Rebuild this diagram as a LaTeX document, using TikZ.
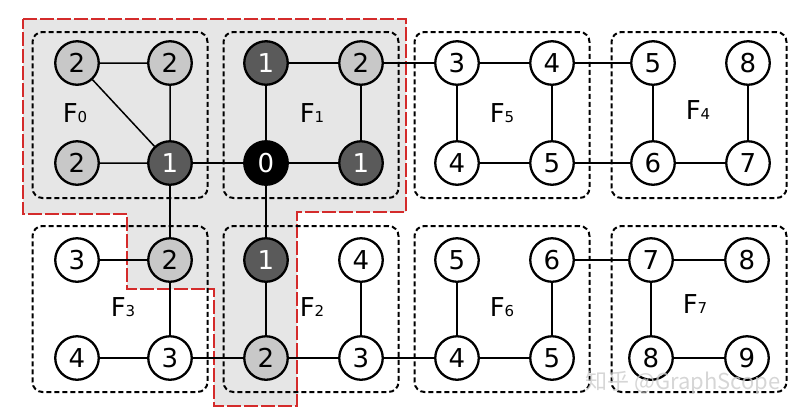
\documentclass[tikz,border=0pt]{standalone}
\usepackage{fontspec}
\setmainfont{DejaVu Sans}
\newfontfamily\cjkfont{Noto Sans CJK SC}
\usetikzlibrary{positioning,backgrounds}
\definecolor{redline}{HTML}{D42B2B}
\definecolor{shade}{HTML}{E6E6E6}
\definecolor{lgray}{HTML}{C8C8C8}
\definecolor{dgray}{HTML}{5A5A5A}
\pgfdeclarelayer{edgelayer}
\pgfsetlayers{background,edgelayer,main}
\newcommand{\fsub}[1]{F{\fontsize{15}{15}\selectfont #1}}
\tikzset{
  vtx/.style={
    circle, draw=black, line width=2.3pt, fill=white, inner sep=0pt,
    minimum size=43.5pt, font=\fontsize{26}{26}\selectfont
  },
  lvtx/.style={vtx, fill=lgray},
  dvtx/.style={vtx, fill=dgray, text=white},
  bvtx/.style={vtx, fill=black, text=white},
  fbox/.style={
    draw=black, line width=2pt, dash pattern=on 5pt off 3pt,
    rounded corners=10pt, minimum width=175pt, minimum height=166pt
  },
  lnk/.style={line width=1.5pt},
  flab/.style={inner sep=0pt, font=\fontsize{26}{26}\selectfont},
  region/.style={
    fill=shade, draw=redline, line width=2pt, dash pattern=on 14pt off 3pt
  }
}
\begin{document}
\begin{tikzpicture}[x=1pt, y=-1pt]
  \useasboundingbox (0,0) rectangle (810,416);
  % subgraph region
  \begin{pgfonlayer}{background}
    \draw[region] (23,19) -- (406,19) -- (406,212) -- (297,212) -- (297,406)
      -- (214,406) -- (214,289) -- (127,289) -- (127,214) -- (23,214) -- cycle;
    \node[fbox] (b0) at (120,115) {};
    \node[fbox] (b1) at (311,115) {};
    \node[fbox] (b5) at (502,115) {};
    \node[fbox] (b4) at (699,115) {};
    \node[fbox] (b3) at (120,309) {};
    \node[fbox] (b2) at (311,309) {};
    \node[fbox] (b6) at (502,309) {};
    \node[fbox] (b7) at (699,309) {};
  \end{pgfonlayer}
  % fragment labels
  \node[flab] (l0) at (75,113) {\fsub{0}};
  \node[flab] (l1) at (312,113) {\fsub{1}};
  \node[flab] (l5) at (502,113) {\fsub{5}};
  \node[flab] (l4) at (698,110) {\fsub{4}};
  \node[flab] (l3) at (123,307) {\fsub{3}};
  \node[flab] (l2) at (312,307) {\fsub{2}};
  \node[flab] (l6) at (502,307) {\fsub{6}};
  \node[flab] (l7) at (695,304) {\fsub{7}};
  % F0
  \node[lvtx] (f0a) at (77,63) {2};
  \node[lvtx] (f0b) at (170,63) {2};
  \node[lvtx] (f0c) at (77,163) {2};
  \node[dvtx] (f0d) at (170,163) {1};
  % F1
  \node[dvtx] (f1a) at (266,63) {1};
  \node[lvtx] (f1b) at (361,63) {2};
  \node[bvtx] (f1c) at (266,163) {0};
  \node[dvtx] (f1d) at (361,163) {1};
  % F5
  \node[vtx] (f5a) at (457,63) {3};
  \node[vtx] (f5b) at (552,63) {4};
  \node[vtx] (f5c) at (457,163) {4};
  \node[vtx] (f5d) at (552,163) {5};
  % F4
  \node[vtx] (f4a) at (653,63) {5};
  \node[vtx] (f4b) at (748,63) {8};
  \node[vtx] (f4c) at (653,163) {6};
  \node[vtx] (f4d) at (748,163) {7};
  % F3
  \node[vtx] (f3a) at (77,260) {3};
  \node[lvtx] (f3b) at (170,260) {2};
  \node[vtx] (f3c) at (77,358) {4};
  \node[vtx] (f3d) at (170,358) {3};
  % F2
  \node[dvtx] (f2a) at (266,260) {1};
  \node[vtx] (f2b) at (361,260) {4};
  \node[lvtx] (f2c) at (266,358) {2};
  \node[vtx] (f2d) at (361,358) {3};
  % F6
  \node[vtx] (f6a) at (457,260) {5};
  \node[vtx] (f6b) at (552,260) {6};
  \node[vtx] (f6c) at (457,358) {4};
  \node[vtx] (f6d) at (552,358) {5};
  % F7
  \node[vtx] (f7a) at (651,260) {7};
  \node[vtx] (f7b) at (747,260) {8};
  \node[vtx] (f7c) at (651,358) {8};
  \node[vtx] (f7d) at (747,358) {9};
  % edges
  \begin{pgfonlayer}{edgelayer}
    \draw[lnk] (f0a) -- (f0b) (f0a) -- (f0d) (f0b) -- (f0d) (f0c) -- (f0d);
    \draw[lnk] (f0d) -- (f1c) (f0d) -- (f3b);
    \draw[lnk] (f1a) -- (f1b) (f1a) -- (f1c) (f1c) -- (f1d) (f1b) -- (f1d);
    \draw[lnk] (f1c) -- (f2a) (f1b) -- (f5a);
    \draw[lnk] (f5a) -- (f5b) (f5a) -- (f5c) (f5b) -- (f5d) (f5c) -- (f5d);
    \draw[lnk] (f5b) -- (f4a) (f5d) -- (f4c);
    \draw[lnk] (f4a) -- (f4c) (f4c) -- (f4d) (f4b) -- (f4d);
    \draw[lnk] (f3a) -- (f3b) (f3b) -- (f3d) (f3c) -- (f3d) (f3d) -- (f2c);
    \draw[lnk] (f2a) -- (f2c) (f2c) -- (f2d) (f2b) -- (f2d) (f2d) -- (f6c);
    \draw[lnk] (f6a) -- (f6c) (f6c) -- (f6d) (f6b) -- (f6d) (f6b) -- (f7a);
    \draw[lnk] (f7a) -- (f7b) (f7a) -- (f7c) (f7c) -- (f7d);
  \end{pgfonlayer}
  % watermark
  \node[text=gray!40, opacity=0.8, font=\cjkfont\fontsize{22}{22}\selectfont]
    (mark) at (683,383) {知乎 @GraphScope};
\end{tikzpicture}
\end{document}
